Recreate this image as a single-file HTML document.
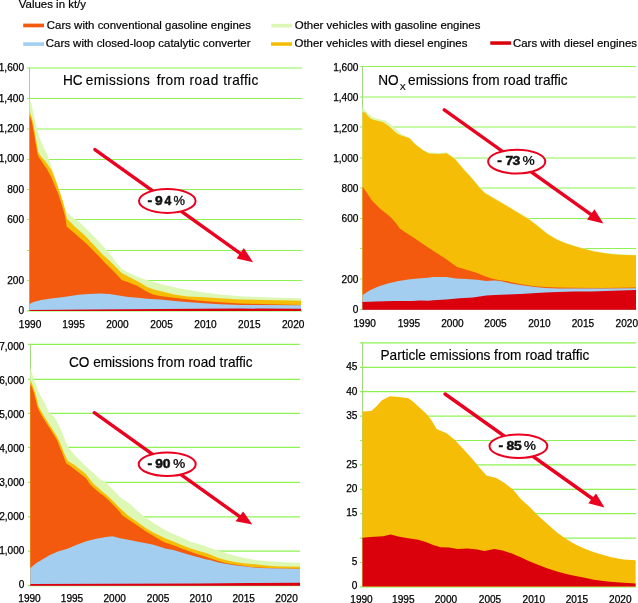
<!DOCTYPE html>
<html><head><meta charset="utf-8"><title>Emissions from road traffic</title>
<style>html,body{margin:0;padding:0;background:#fff;overflow:hidden;}svg{display:block;will-change:transform;}</style>
</head><body>
<svg width="638" height="603" viewBox="0 0 638 603" font-family='"Liberation Sans", sans-serif'>
<rect width="638" height="603" fill="#fff"/>
<g font-size="11.45" fill="#000" stroke="#000" stroke-width="0.2">
<text x="18.8" y="7.5">Values in kt/y</text>
<rect x="23.2" y="23.6" width="20.8" height="3.7" fill="#f35a0e" stroke="none"/><text x="46.8" y="28.6">Cars with conventional gasoline engines</text>
<rect x="23.2" y="42.3" width="20.8" height="3.6" fill="#a3cef0" stroke="none"/><text x="45.8" y="46.5">Cars with closed-loop catalytic converter</text>
<rect x="271.3" y="23.8" width="20.7" height="3.7" fill="#dcf8b4" stroke="none"/><text x="294.8" y="28.6">Other vehicles with gasoline engines</text>
<rect x="271" y="42.3" width="21" height="3.5" fill="#f5bd05" stroke="none"/><text x="294.5" y="46.5">Other vehicles with diesel engines</text>
<rect x="490.3" y="41.3" width="20.8" height="3.5" fill="#da000c" stroke="none"/><text x="513.0" y="46.5">Cars with diesel engines</text>
</g>
<g stroke="#8ef452" stroke-width="1.2"><line x1="27.0" y1="68.00" x2="302.0" y2="68.00"/><line x1="27.0" y1="98.50" x2="302.0" y2="98.50"/><line x1="27.0" y1="129.00" x2="302.0" y2="129.00"/><line x1="27.0" y1="159.50" x2="302.0" y2="159.50"/><line x1="27.0" y1="189.50" x2="302.0" y2="189.50"/><line x1="27.0" y1="219.50" x2="302.0" y2="219.50"/><line x1="27.0" y1="250.50" x2="302.0" y2="250.50"/><line x1="27.0" y1="280.50" x2="302.0" y2="280.50"/><line x1="27.0" y1="310.80" x2="302.0" y2="310.80"/></g><line x1="29.5" y1="67.50" x2="29.5" y2="310.80" stroke="#a0d880" stroke-width="1"/>
<g stroke="#8ef452" stroke-width="1.2"><line x1="360.0" y1="66.50" x2="636.0" y2="66.50"/><line x1="360.0" y1="97.00" x2="636.0" y2="97.00"/><line x1="360.0" y1="127.00" x2="636.0" y2="127.00"/><line x1="360.0" y1="158.00" x2="636.0" y2="158.00"/><line x1="360.0" y1="188.00" x2="636.0" y2="188.00"/><line x1="360.0" y1="218.50" x2="636.0" y2="218.50"/><line x1="360.0" y1="248.50" x2="636.0" y2="248.50"/><line x1="360.0" y1="279.00" x2="636.0" y2="279.00"/><line x1="360.0" y1="309.40" x2="636.0" y2="309.40"/></g><line x1="362.5" y1="66.00" x2="362.5" y2="309.40" stroke="#a0d880" stroke-width="1"/>
<g stroke="#8ef452" stroke-width="1.2"><line x1="28.0" y1="344.40" x2="300.0" y2="344.40"/><line x1="28.0" y1="379.40" x2="300.0" y2="379.40"/><line x1="28.0" y1="413.30" x2="300.0" y2="413.30"/><line x1="28.0" y1="447.30" x2="300.0" y2="447.30"/><line x1="28.0" y1="482.30" x2="300.0" y2="482.30"/><line x1="28.0" y1="516.90" x2="300.0" y2="516.90"/><line x1="28.0" y1="551.20" x2="300.0" y2="551.20"/><line x1="28.0" y1="585.60" x2="300.0" y2="585.60"/></g><line x1="30.5" y1="343.90" x2="30.5" y2="585.60" stroke="#a0d880" stroke-width="1"/>
<g stroke="#8ef452" stroke-width="1.2"><line x1="360.0" y1="342.90" x2="636.0" y2="342.90"/><line x1="360.0" y1="367.30" x2="636.0" y2="367.30"/><line x1="360.0" y1="391.70" x2="636.0" y2="391.70"/><line x1="360.0" y1="416.10" x2="636.0" y2="416.10"/><line x1="360.0" y1="440.50" x2="636.0" y2="440.50"/><line x1="360.0" y1="464.90" x2="636.0" y2="464.90"/><line x1="360.0" y1="489.30" x2="636.0" y2="489.30"/><line x1="360.0" y1="513.70" x2="636.0" y2="513.70"/><line x1="360.0" y1="538.10" x2="636.0" y2="538.10"/><line x1="360.0" y1="562.50" x2="636.0" y2="562.50"/><line x1="360.0" y1="586.90" x2="636.0" y2="586.90"/></g><line x1="362.5" y1="342.40" x2="362.5" y2="586.90" stroke="#a0d880" stroke-width="1"/>
<polygon points="29.5,99.0 31.5,104.0 34.0,116.0 36.5,127.0 39.0,136.0 41.5,142.0 44.0,148.0 47.0,154.0 50.0,162.0 53.0,171.0 57.2,183.0 61.1,195.7 64.0,205.0 66.0,211.0 70.6,216.0 79.9,222.5 89.2,231.8 99.8,242.4 110.0,254.0 116.0,262.5 122.0,269.0 128.0,272.5 136.0,276.0 142.0,278.5 150.0,281.0 160.0,284.0 180.0,288.5 200.0,292.0 220.0,294.5 240.0,296.3 270.0,297.5 301.0,298.2 301.0,311.0 29.5,311.0" fill="#dcf8b4"/>
<polygon points="29.5,111.6 31.5,116.5 33.6,125.0 35.3,135.0 37.0,145.0 38.6,152.9 41.3,156.8 45.9,162.1 51.4,170.0 55.4,180.0 59.4,191.0 62.7,201.0 65.4,211.0 66.9,218.4 74.6,226.5 83.9,234.5 94.5,245.8 103.0,255.0 109.4,260.6 116.0,267.2 121.6,272.9 130.1,277.6 139.5,282.3 147.0,287.0 154.6,289.8 160.0,291.0 175.2,294.8 187.8,296.4 200.0,297.1 240.0,299.4 301.0,300.8 301.0,311.0 29.5,311.0" fill="#f5bd05"/>
<polygon points="29.5,115.5 31.8,121.5 34.3,135.0 36.0,144.9 37.3,152.9 38.6,156.8 41.3,160.8 43.9,165.0 46.6,168.5 50.5,175.8 54.5,185.1 58.5,194.4 61.8,205.0 64.5,214.3 65.8,220.0 66.6,226.5 75.9,234.5 86.5,243.8 98.4,255.7 105.6,263.5 112.2,270.0 117.9,275.7 121.6,279.9 128.2,282.3 137.6,286.0 145.2,290.7 152.7,294.5 160.0,295.9 180.0,298.5 200.0,300.8 220.0,302.3 240.0,303.4 270.0,304.3 301.0,305.0 301.0,311.0 29.5,311.0" fill="#f35a0e"/>
<polygon points="29.5,304.0 33.5,302.0 41.0,300.1 51.1,298.6 63.6,297.0 78.7,294.8 88.7,294.1 100.0,293.6 109.4,294.0 118.8,295.5 128.2,296.9 137.6,297.8 147.0,298.7 160.0,299.5 180.0,301.5 200.0,303.0 220.0,304.2 240.0,304.9 301.0,305.2 301.0,311.0 29.5,311.0" fill="#a3cef0"/>
<polygon points="29.5,309.9 160.0,309.0 240.0,308.6 301.0,308.7 301.0,311.0 29.5,311.0" fill="#da000c"/>
<polygon points="362.5,106.9 366.0,111.6 371.3,116.2 377.9,118.9 384.5,120.2 389.8,123.5 395.1,128.2 401.1,134.1 409.1,137.4 415.7,144.1 422.3,149.4 429.0,152.5 440.0,153.1 446.6,152.3 454.9,158.1 463.2,168.0 471.5,177.1 479.8,187.1 484.7,192.1 493.0,197.0 503.0,202.8 512.9,208.7 520.0,213.0 529.2,218.6 538.5,226.0 547.7,233.4 557.0,239.0 566.2,242.8 575.5,246.0 584.7,248.4 594.0,250.8 603.2,252.5 612.5,253.6 623.6,254.3 636.0,254.7 636.0,309.8 362.5,309.8" fill="#dcf8b4"/>
<polygon points="362.5,111.9 365.3,112.6 368.0,116.2 371.3,118.9 375.2,120.2 379.9,121.2 383.2,122.2 387.2,124.9 391.2,128.2 395.1,132.1 398.0,134.1 401.1,135.5 409.1,138.1 415.7,144.7 423.7,150.7 429.0,153.4 440.0,154.1 446.6,153.3 454.9,159.1 463.2,169.0 471.5,178.1 479.8,188.1 484.7,193.1 493.0,198.0 503.0,203.8 512.9,209.7 520.0,213.9 529.2,219.4 538.5,226.8 547.7,234.2 557.0,239.8 566.2,243.5 575.5,246.6 584.7,249.0 594.0,251.4 603.2,253.1 612.5,254.2 623.6,254.9 636.0,255.2 636.0,309.8 362.5,309.8" fill="#f5bd05"/>
<polygon points="362.5,186.6 366.6,192.5 371.9,200.5 379.9,208.5 390.5,217.1 395.8,223.0 399.8,228.4 406.4,233.0 415.7,239.0 420.0,241.9 426.6,246.6 435.9,252.5 445.2,258.5 451.8,263.2 457.1,267.1 466.4,269.8 475.7,272.4 483.7,275.8 491.6,278.4 500.0,280.2 507.5,281.3 520.1,284.1 532.6,286.1 545.2,287.1 557.7,287.6 575.0,287.8 602.0,288.0 636.0,287.6 636.0,309.8 362.5,309.8" fill="#f35a0e"/>
<polygon points="362.5,295.0 370.0,290.2 378.3,286.6 387.9,283.6 397.4,281.2 408.2,279.4 417.7,278.5 428.0,277.7 433.3,277.1 446.5,277.1 455.8,278.4 466.4,279.1 477.0,279.7 486.3,281.1 494.3,280.4 500.0,281.1 507.5,282.8 520.1,285.1 532.6,286.8 545.2,287.9 557.7,288.4 575.0,288.6 602.0,288.6 636.0,288.3 636.0,309.8 362.5,309.8" fill="#a3cef0"/>
<polygon points="362.5,301.9 375.9,301.5 393.8,300.9 411.8,300.9 420.0,300.6 428.0,300.8 433.3,300.3 446.5,299.6 459.8,298.3 473.0,297.6 486.3,295.6 495.0,294.9 507.5,294.5 520.1,294.1 532.6,293.2 545.2,292.6 557.7,292.0 575.0,291.6 591.3,291.4 612.6,290.7 636.0,290.0 636.0,309.8 362.5,309.8" fill="#da000c"/>
<polygon points="30.3,368.0 32.5,375.0 34.6,381.0 38.6,391.9 42.6,399.2 45.9,405.0 47.9,411.0 54.5,417.2 61.2,429.9 65.1,440.0 68.3,447.3 74.9,455.3 81.5,461.9 88.2,468.5 95.0,474.5 100.0,479.0 105.9,482.3 113.2,490.0 120.0,497.0 130.0,504.0 137.0,510.5 144.0,516.5 155.0,524.0 165.0,530.0 173.3,534.1 181.6,537.4 189.9,541.6 198.2,544.1 206.5,546.6 216.0,550.0 226.6,553.2 234.9,555.7 243.2,557.8 255.0,559.9 271.6,561.6 288.2,562.4 300.0,562.8 300.0,585.8 30.3,585.8" fill="#dcf8b4"/>
<polygon points="30.3,381.0 31.0,381.2 33.3,387.2 35.3,393.2 37.0,399.5 38.6,406.6 41.3,411.3 43.9,415.9 47.2,421.2 50.6,426.5 53.9,431.8 57.2,437.1 59.0,440.5 61.0,445.3 63.6,451.9 66.3,457.9 68.3,461.2 71.6,463.2 74.9,465.2 78.2,467.9 81.5,470.5 85.5,473.8 90.0,479.6 93.3,483.6 96.6,486.6 100.0,489.6 103.3,492.6 106.6,494.9 109.9,497.9 113.2,501.2 116.5,504.5 120.0,508.3 128.3,515.8 136.6,521.6 144.9,527.4 153.2,532.4 161.5,536.5 165.0,538.3 173.3,541.6 181.6,544.9 189.9,548.2 198.2,550.7 206.5,553.2 210.0,554.5 218.3,558.0 226.6,560.3 234.9,562.0 243.2,563.2 255.0,564.2 263.3,565.3 271.6,566.1 279.9,566.5 300.0,566.7 300.0,585.8 30.3,585.8" fill="#f5bd05"/>
<polygon points="30.3,383.9 32.0,387.2 34.0,393.2 35.6,399.5 37.3,406.6 39.3,411.3 41.9,415.9 45.2,421.2 48.6,426.5 51.9,431.8 55.2,437.1 57.0,440.0 59.0,445.3 61.6,451.3 64.3,458.6 65.6,461.9 66.9,463.9 69.6,465.5 72.9,467.9 76.2,470.5 79.5,473.2 82.9,475.8 86.2,478.5 90.0,484.3 93.3,487.6 96.6,490.6 100.0,493.2 103.3,495.6 106.6,498.2 109.9,501.5 113.2,504.9 116.5,508.2 119.9,512.1 121.8,515.0 128.3,519.5 136.6,524.9 144.9,530.7 153.2,535.7 161.5,540.7 165.0,542.4 173.3,545.3 181.6,548.6 189.9,551.5 198.2,554.4 206.5,556.9 210.0,558.2 218.3,561.1 226.6,563.2 234.9,564.4 243.2,565.7 251.5,566.9 260.0,567.6 280.0,568.4 300.0,568.8 300.0,585.8 30.3,585.8" fill="#f35a0e"/>
<polygon points="30.3,568.0 31.0,567.6 36.0,563.2 42.3,559.5 49.8,555.1 58.6,551.3 67.4,548.8 76.2,545.1 86.2,541.3 96.2,538.8 106.0,536.9 112.5,536.2 120.0,538.2 128.3,539.8 136.6,541.5 144.9,543.1 153.2,544.8 161.5,547.3 165.0,548.6 173.3,549.9 181.6,552.4 189.9,554.9 198.2,557.3 206.5,559.4 210.0,559.9 218.3,562.4 226.6,564.0 234.9,565.3 243.2,566.3 251.5,567.3 260.0,568.0 280.0,568.6 300.0,569.0 300.0,585.8 30.3,585.8" fill="#a3cef0"/>
<polygon points="30.3,584.0 200.0,583.6 250.0,582.9 300.0,582.8 300.0,585.8 30.3,585.8" fill="#da000c"/>
<polygon points="362.5,411.5 371.3,410.9 376.6,406.2 381.9,400.3 389.8,396.3 399.1,396.9 408.4,398.3 413.7,402.2 420.3,408.2 425.6,412.9 431.0,419.5 436.6,429.1 446.6,433.2 454.9,439.9 463.2,449.0 471.5,458.1 479.8,468.1 486.4,475.5 496.3,478.0 504.6,483.0 512.9,489.6 521.2,499.6 529.2,506.6 538.5,515.9 547.7,524.2 557.0,532.5 566.2,539.0 575.5,544.6 584.7,548.8 594.0,552.3 603.2,555.1 612.5,557.5 623.6,559.4 635.6,560.3 635.6,586.4 362.5,586.4" fill="#f5bd05"/>
<polygon points="362.5,537.8 370.5,537.0 383.1,536.3 390.6,534.5 398.1,536.6 408.2,538.2 418.2,539.8 425.7,542.0 433.2,545.1 440.6,547.2 449.1,547.6 457.6,549.0 467.4,548.6 477.3,549.5 484.4,550.9 494.2,549.0 502.7,550.5 511.2,553.3 519.6,556.8 529.2,561.2 538.5,564.9 547.7,568.6 557.0,571.4 566.2,574.1 575.5,576.0 584.7,577.8 594.0,579.7 603.2,581.0 612.5,581.9 623.6,582.8 635.6,583.4 635.6,586.4 362.5,586.4" fill="#da000c"/>
<g font-size="10.1" fill="#000" stroke="#000" stroke-width="0.25">
<text x="24.0" y="71.27" text-anchor="end">1,600</text><text x="24.0" y="101.63" text-anchor="end">1,400</text><text x="24.0" y="131.99" text-anchor="end">1,200</text><text x="24.0" y="162.35" text-anchor="end">1,000</text><text x="24.0" y="192.71" text-anchor="end">800</text><text x="24.0" y="223.07" text-anchor="end">600</text><text x="24.0" y="283.79" text-anchor="end">200</text><text x="24.0" y="314.15" text-anchor="end">0</text>
<text x="358.4" y="70.92" text-anchor="end">1,600</text><text x="358.4" y="101.23" text-anchor="end">1,400</text><text x="358.4" y="131.54" text-anchor="end">1,200</text><text x="358.4" y="161.85" text-anchor="end">1,000</text><text x="358.4" y="192.16" text-anchor="end">800</text><text x="358.4" y="222.47" text-anchor="end">600</text><text x="358.4" y="283.09" text-anchor="end">200</text><text x="358.4" y="313.40" text-anchor="end">0</text>
<text x="24.4" y="349.87" text-anchor="end">7,000</text><text x="24.4" y="383.87" text-anchor="end">6,000</text><text x="24.4" y="417.87" text-anchor="end">5,000</text><text x="24.4" y="451.87" text-anchor="end">4,000</text><text x="24.4" y="485.87" text-anchor="end">3,000</text><text x="24.4" y="519.87" text-anchor="end">2,000</text><text x="24.4" y="553.87" text-anchor="end">1,000</text><text x="24.4" y="587.87" text-anchor="end">0</text>
<text x="357.4" y="370.28" text-anchor="end">45</text><text x="357.4" y="394.59" text-anchor="end">40</text><text x="357.4" y="418.90" text-anchor="end">35</text><text x="357.4" y="467.52" text-anchor="end">25</text><text x="357.4" y="491.83" text-anchor="end">20</text><text x="357.4" y="516.14" text-anchor="end">15</text><text x="357.4" y="564.76" text-anchor="end">5</text><text x="357.4" y="589.07" text-anchor="end">0</text>
<text x="30.1" y="327.8" text-anchor="middle">1990</text><text x="73.6" y="327.8" text-anchor="middle">1995</text><text x="117.4" y="327.8" text-anchor="middle">2000</text><text x="161.6" y="327.8" text-anchor="middle">2005</text><text x="205.5" y="327.8" text-anchor="middle">2010</text><text x="249.3" y="327.8" text-anchor="middle">2015</text><text x="293.2" y="327.8" text-anchor="middle">2020</text>
<text x="364.7" y="327.2" text-anchor="middle">1990</text><text x="408.9" y="327.2" text-anchor="middle">1995</text><text x="452.4" y="327.2" text-anchor="middle">2000</text><text x="495.5" y="327.2" text-anchor="middle">2005</text><text x="539.4" y="327.2" text-anchor="middle">2010</text><text x="582.9" y="327.2" text-anchor="middle">2015</text><text x="626.8" y="327.2" text-anchor="middle">2020</text>
<text x="29.5" y="601.9" text-anchor="middle">1990</text><text x="72" y="601.9" text-anchor="middle">1995</text><text x="114.7" y="601.9" text-anchor="middle">2000</text><text x="158.1" y="601.9" text-anchor="middle">2005</text><text x="200.8" y="601.9" text-anchor="middle">2010</text><text x="243.7" y="601.9" text-anchor="middle">2015</text><text x="286.6" y="601.9" text-anchor="middle">2020</text>
<text x="361.5" y="602.7" text-anchor="middle">1990</text><text x="403.3" y="602.7" text-anchor="middle">1995</text><text x="445.9" y="602.7" text-anchor="middle">2000</text><text x="490" y="602.7" text-anchor="middle">2005</text><text x="533.8" y="602.7" text-anchor="middle">2010</text><text x="576.9" y="602.7" text-anchor="middle">2015</text><text x="620.3" y="602.7" text-anchor="middle">2020</text>
</g>
<g font-size="14.2" fill="#000" stroke="#000" stroke-width="0.15">
<text transform="translate(62.93,85.3) scale(0.961,1)" letter-spacing="0.104">HC</text><text transform="translate(85.73,85.3) scale(0.961,1)" letter-spacing="0.468">emissions</text><text transform="translate(156.8,85.3) scale(0.961,1)" letter-spacing="0.260">from</text><text transform="translate(189.5,85.3) scale(0.961,1)" letter-spacing="0.520">road</text><text transform="translate(223.2,85.3) scale(0.961,1)" letter-spacing="0.333">traffic</text>
<text transform="translate(378.2,85.3) scale(0.961,1)">NO</text><text x="399.8" y="89.9" font-size="9">X</text><text transform="translate(408.1,85.3) scale(0.961,1)">emissions from road traffic</text>
<text transform="translate(68.9,367.3) scale(0.961,1)">CO emissions from road traffic</text>
<text transform="translate(380.5,360.2) scale(0.961,1)">Particle emissions from road traffic</text>
</g>
<line x1="94.9" y1="149.6" x2="240.2" y2="253.3" stroke="#ec0020" stroke-width="3.4" stroke-linecap="round"/><polygon points="253.1,262.3 243.8,248.0 236.6,258.5" fill="#ec0020"/>
<line x1="444.3" y1="109.9" x2="590.8" y2="214.4" stroke="#ec0020" stroke-width="3.4" stroke-linecap="round"/><polygon points="603.4,223.5 594.5,209.3 587.0,219.4" fill="#ec0020"/>
<line x1="94.3" y1="412.7" x2="239.4" y2="516.4" stroke="#ec0020" stroke-width="3.4" stroke-linecap="round"/><polygon points="252.3,524.6 243.2,511.5 235.5,521.3" fill="#ec0020"/>
<line x1="445.1" y1="394" x2="592.2" y2="498.5" stroke="#ec0020" stroke-width="3.4" stroke-linecap="round"/><polygon points="604.5,507.4 596.0,493.6 588.3,503.3" fill="#ec0020"/>
<g fill="#111">
<ellipse cx="167.3" cy="201" rx="28.3" ry="11.9" fill="#fff" stroke="#ec0020" stroke-width="2"/><text transform="translate(149.75,204.6) scale(1.12,1)" text-anchor="middle" font-weight="700" font-size="12.4" stroke="#111" stroke-width="0.5">-</text><text transform="translate(158.95,204.6) scale(1.12,1)" text-anchor="middle" font-weight="700" font-size="12.4" stroke="#111" stroke-width="0.5">9</text><text transform="translate(167.8,204.6) scale(0.98,1)" text-anchor="middle" font-weight="700" font-size="12.4" stroke="#111" stroke-width="0.5">4</text><text transform="translate(179.2,204.6) scale(1.04,1)" text-anchor="middle" font-weight="400" font-size="12.4" stroke="#111" stroke-width="0.35">%</text>
<ellipse cx="516.7" cy="161.6" rx="28.6" ry="11.9" fill="#fff" stroke="#ec0020" stroke-width="2"/><text transform="translate(499.5,165.2) scale(1.12,1)" text-anchor="middle" font-weight="700" font-size="12.4" stroke="#111" stroke-width="0.5">-</text><text transform="translate(509.4,165.2) scale(1.12,1)" text-anchor="middle" font-weight="700" font-size="12.4" stroke="#111" stroke-width="0.5">7</text><text transform="translate(516.4,165.2) scale(1.12,1)" text-anchor="middle" font-weight="700" font-size="12.4" stroke="#111" stroke-width="0.5">3</text><text transform="translate(528.7,165.2) scale(1.12,1)" text-anchor="middle" font-weight="700" font-size="12.4">%</text>
<ellipse cx="167.2" cy="464.2" rx="28.5" ry="11.8" fill="#fff" stroke="#ec0020" stroke-width="2"/><text transform="translate(149.75,467.8) scale(1.12,1)" text-anchor="middle" font-weight="700" font-size="12.4" stroke="#111" stroke-width="0.5">-</text><text transform="translate(159.0,467.8) scale(1.12,1)" text-anchor="middle" font-weight="700" font-size="12.4" stroke="#111" stroke-width="0.5">9</text><text transform="translate(166.65,467.8) scale(1.12,1)" text-anchor="middle" font-weight="700" font-size="12.4" stroke="#111" stroke-width="0.5">0</text><text transform="translate(179.1,467.8) scale(1.12,1)" text-anchor="middle" font-weight="700" font-size="12.4">%</text>
<ellipse cx="518.4" cy="446.2" rx="28.9" ry="11.7" fill="#fff" stroke="#ec0020" stroke-width="2"/><text transform="translate(500.9,449.5) scale(1.12,1)" text-anchor="middle" font-weight="700" font-size="12.4" stroke="#111" stroke-width="0.5">-</text><text transform="translate(510.25,449.5) scale(1.12,1)" text-anchor="middle" font-weight="700" font-size="12.4" stroke="#111" stroke-width="0.5">8</text><text transform="translate(517.75,449.5) scale(1.12,1)" text-anchor="middle" font-weight="700" font-size="12.4" stroke="#111" stroke-width="0.5">5</text><text transform="translate(529.85,449.5) scale(1.12,1)" text-anchor="middle" font-weight="700" font-size="12.4">%</text>
</g>
</svg>
</body></html>
